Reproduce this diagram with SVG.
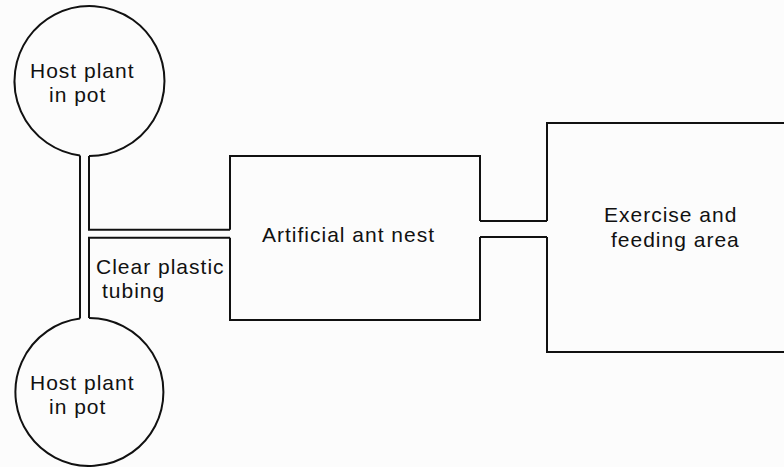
<svg xmlns="http://www.w3.org/2000/svg" width="784" height="467" viewBox="0 0 784 467">
  <style>
    .ln { fill: none; stroke: #111; stroke-width: 2; stroke-linejoin: miter; }
    .lb { font-family: "Liberation Sans", Arial, sans-serif; font-size: 21px; letter-spacing: 1px; fill: #111; }
  </style>
  <rect width="784" height="467" fill="#fcfcfc"/>
  <g id="host-plant-top">
    <path class="ln" d="M 80 155.4 A 75 75 0 1 1 89 156"/>
    <text class="lb" x="30" y="78">Host plant</text>
    <text class="lb" x="49" y="102">in pot</text>
  </g>
  <g id="host-plant-bottom">
    <path class="ln" d="M 89 318 A 74 74 0 1 1 80 318.6"/>
    <text class="lb" x="30" y="390">Host plant</text>
    <text class="lb" x="49" y="414">in pot</text>
  </g>
  <g id="ant-nest">
    <path class="ln" d="M 230 229.7 V 156 H 480 V 221 M 480 237 V 320 H 230 V 237.7"/>
    <text class="lb" x="262" y="242">Artificial ant nest</text>
  </g>
  <g id="exercise-area">
    <path class="ln" d="M 547 221 V 123 H 790 M 790 352 H 547 V 237"/>
    <text class="lb" x="604" y="222">Exercise and</text>
    <text class="lb" x="611" y="247">feeding area</text>
  </g>
  <g id="connectors">
    <path class="ln" d="M 80 155.4 V 318.6"/>
    <path class="ln" d="M 89 156 V 229.7 H 230"/>
    <path class="ln" d="M 230 237.7 H 89 V 318"/>
    <path class="ln" d="M 480 221 H 547"/>
    <path class="ln" d="M 480 237 H 547"/>
    <text class="lb" x="96" y="274">Clear plastic</text>
    <text class="lb" x="102" y="298">tubing</text>
  </g>
</svg>
